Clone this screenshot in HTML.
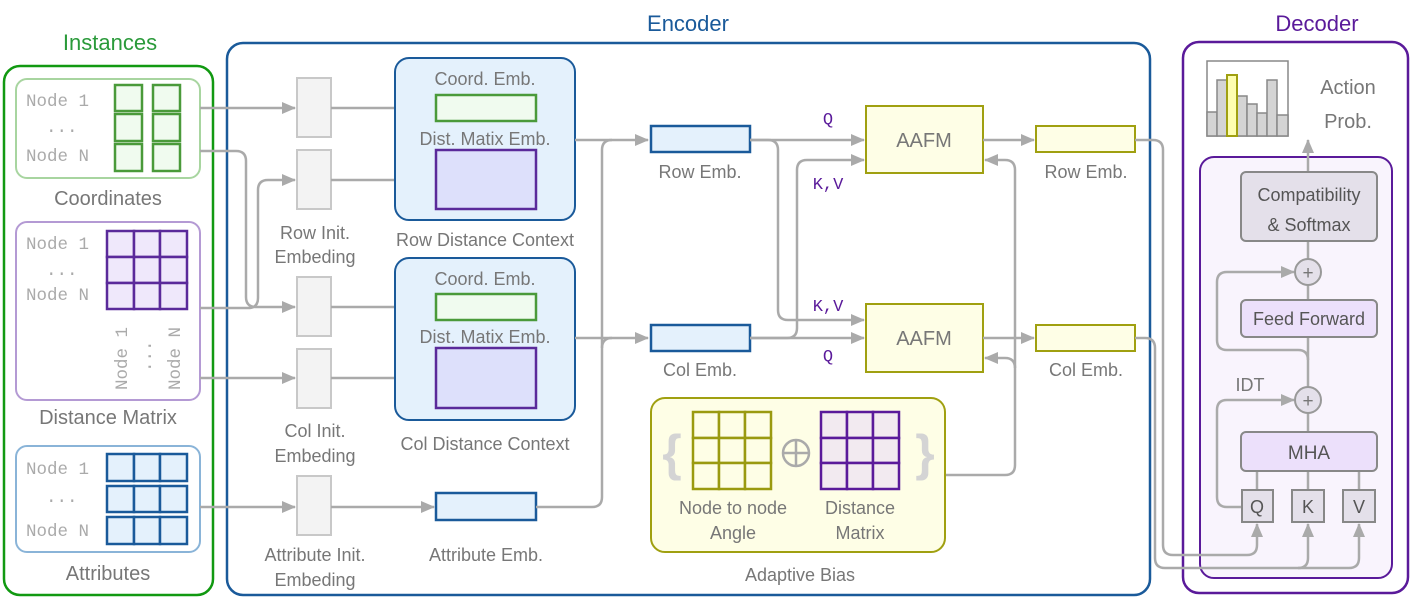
<!DOCTYPE html>
<html><head><meta charset="utf-8"><style>
html,body{margin:0;padding:0;background:#fff}
svg{display:block}
text{font-family:"Liberation Sans",sans-serif;fill:#777}
.m{font-family:"Liberation Mono",monospace;fill:#aaa;font-size:17.5px}
.p{font-family:"Liberation Mono",monospace;fill:#5a1a9a;font-size:17px}
.l{stroke:#aaa;stroke-width:2.5;fill:none}
</style></head><body>
<svg width="1412" height="598" viewBox="0 0 1412 598" xmlns="http://www.w3.org/2000/svg">
<defs>
<marker id="a" markerWidth="16" markerHeight="14" refX="13" refY="6" orient="auto" markerUnits="userSpaceOnUse">
<path d="M0,0 L14,6 L0,12 z" fill="#aaa"/></marker>
</defs>

<text x="110" y="50" font-size="22" text-anchor="middle" style="fill:#2a9a3a">Instances</text>
<text x="688" y="31" font-size="22" text-anchor="middle" style="fill:#1a5a9a">Encoder</text>
<text x="1317" y="31" font-size="22" text-anchor="middle" style="fill:#5a1a9a">Decoder</text>

<rect x="4" y="66" width="209" height="529" rx="16" fill="none" stroke="#119911" stroke-width="2.5"/>
<rect x="16" y="79" width="184" height="99" rx="11" fill="#fff" stroke="#a8d5a0" stroke-width="2"/>
<g fill="#f0fbef" stroke="#4a9a3a" stroke-width="2.5">
<rect x="115" y="85" width="27" height="26"/><rect x="153" y="85" width="27" height="26"/>
<rect x="115" y="114" width="27" height="27"/><rect x="153" y="114" width="27" height="27"/>
<rect x="115" y="144" width="27" height="27"/><rect x="153" y="144" width="27" height="27"/>
</g>
<text class="m" x="26" y="106">Node 1</text><text class="m" x="46" y="132">...</text><text class="m" x="26" y="161">Node N</text>
<text x="108" y="205" font-size="20" text-anchor="middle">Coordinates</text>

<rect x="16" y="222" width="184" height="178" rx="11" fill="#fff" stroke="#b49ad4" stroke-width="2"/>
<g fill="#efe8fb" stroke="#5a2a9a" stroke-width="2.5">
<rect x="107" y="231" width="27" height="26"/><rect x="134" y="231" width="26" height="26"/><rect x="160" y="231" width="27" height="26"/>
<rect x="107" y="257" width="27" height="26"/><rect x="134" y="257" width="26" height="26"/><rect x="160" y="257" width="27" height="26"/>
<rect x="107" y="283" width="27" height="26"/><rect x="134" y="283" width="26" height="26"/><rect x="160" y="283" width="27" height="26"/>
</g>
<text class="m" x="26" y="249">Node 1</text><text class="m" x="46" y="275">...</text><text class="m" x="26" y="300">Node N</text>
<text class="m" transform="translate(127,390) rotate(-90)">Node 1</text>
<text class="m" transform="translate(151,372) rotate(-90)">...</text>
<text class="m" transform="translate(180,390) rotate(-90)">Node N</text>
<text x="108" y="424" font-size="20" text-anchor="middle">Distance Matrix</text>

<rect x="16" y="446" width="184" height="106" rx="11" fill="#fff" stroke="#8ab4d8" stroke-width="2"/>
<g fill="#e4f1fc" stroke="#1a5a9a" stroke-width="2.5">
<rect x="107" y="454" width="27" height="27"/><rect x="134" y="454" width="26" height="27"/><rect x="160" y="454" width="27" height="27"/>
<rect x="107" y="486" width="27" height="26"/><rect x="134" y="486" width="26" height="26"/><rect x="160" y="486" width="27" height="26"/>
<rect x="107" y="517" width="27" height="27"/><rect x="134" y="517" width="26" height="27"/><rect x="160" y="517" width="27" height="27"/>
</g>
<text class="m" x="26" y="474">Node 1</text><text class="m" x="46" y="502">...</text><text class="m" x="26" y="536">Node N</text>
<text x="108" y="580" font-size="20" text-anchor="middle">Attributes</text>

<rect x="227" y="43" width="923" height="552" rx="16" fill="none" stroke="#1a5a9a" stroke-width="2.5"/>
<g fill="#f3f3f3" stroke="#c8c8c8" stroke-width="2">
<rect x="297" y="78" width="34" height="59"/><rect x="297" y="150" width="34" height="59"/>
<rect x="297" y="277" width="34" height="59"/><rect x="297" y="349" width="34" height="59"/>
<rect x="297" y="476" width="34" height="59"/>
</g>
<g font-size="18" text-anchor="middle">
<text x="315" y="239">Row Init.</text><text x="315" y="263">Embeding</text>
<text x="315" y="437">Col Init.</text><text x="315" y="462">Embeding</text>
<text x="315" y="561">Attribute Init.</text><text x="315" y="586">Embeding</text>
</g>

<path class="l" d="M200,108 H295" marker-end="url(#a)"/>
<path class="l" d="M200,151 H236 Q246,151 246,161 V297 Q246,307 256,307 H295" marker-end="url(#a)"/>
<path class="l" d="M200,308 H248 Q258,308 258,298 V190 Q258,180 268,180 H295" marker-end="url(#a)"/>
<path class="l" d="M200,378 H295" marker-end="url(#a)"/>
<path class="l" d="M200,507 H295" marker-end="url(#a)"/>
<path class="l" d="M331,108 H434" marker-end="url(#a)"/>
<path class="l" d="M331,180 H434" marker-end="url(#a)"/>
<path class="l" d="M331,307 H434" marker-end="url(#a)"/>
<path class="l" d="M331,378 H434" marker-end="url(#a)"/>
<path class="l" d="M331,507 H434" marker-end="url(#a)"/>

<rect x="395" y="58" width="180" height="162" rx="14" fill="#e4f1fc" stroke="#1a5a9a" stroke-width="2"/>
<text x="485" y="85" font-size="18" text-anchor="middle">Coord. Emb.</text>
<rect x="436" y="95" width="100" height="26" fill="#f0fbef" stroke="#4a9a3a" stroke-width="2.5"/>
<text x="485" y="145" font-size="18" text-anchor="middle">Dist. Matix Emb.</text>
<rect x="436" y="150" width="100" height="59" fill="#dde0fb" stroke="#5a2a9a" stroke-width="2.5"/>
<text x="485" y="246" font-size="18" text-anchor="middle">Row Distance Context</text>

<rect x="395" y="258" width="180" height="162" rx="14" fill="#e4f1fc" stroke="#1a5a9a" stroke-width="2"/>
<text x="485" y="285" font-size="18" text-anchor="middle">Coord. Emb.</text>
<rect x="436" y="294" width="100" height="26" fill="#f0fbef" stroke="#4a9a3a" stroke-width="2.5"/>
<text x="485" y="343" font-size="18" text-anchor="middle">Dist. Matix Emb.</text>
<rect x="436" y="348" width="100" height="60" fill="#dde0fb" stroke="#5a2a9a" stroke-width="2.5"/>
<text x="485" y="450" font-size="18" text-anchor="middle">Col Distance Context</text>

<rect x="436" y="493" width="100" height="27" fill="#e4f1fc" stroke="#1a5a9a" stroke-width="2.5"/>
<text x="486" y="561" font-size="18" text-anchor="middle">Attribute Emb.</text>

<path class="l" d="M575,140 H648" marker-end="url(#a)"/>
<path class="l" d="M575,338 H648" marker-end="url(#a)"/>
<path class="l" d="M536,507 H592 Q602,507 602,497 V150 Q602,140 612,140"/>
<path class="l" d="M602,348 Q602,338 612,338"/>

<rect x="651" y="126" width="99" height="26" fill="#e4f1fc" stroke="#1a5a9a" stroke-width="2.5"/>
<text x="700" y="178" font-size="18" text-anchor="middle">Row Emb.</text>
<rect x="651" y="325" width="99" height="26" fill="#e4f1fc" stroke="#1a5a9a" stroke-width="2.5"/>
<text x="700" y="376" font-size="18" text-anchor="middle">Col Emb.</text>

<path class="l" d="M750,140 H864" marker-end="url(#a)"/>
<path class="l" d="M750,140 H768 Q778,140 778,150 V310 Q778,320 788,320 H864" marker-end="url(#a)"/>
<path class="l" d="M750,338 H864" marker-end="url(#a)"/>
<path class="l" d="M750,338 H787 Q797,338 797,328 V170 Q797,160 807,160 H864" marker-end="url(#a)"/>
<text class="p" x="828" y="124" text-anchor="middle">Q</text>
<text class="p" x="828" y="189" text-anchor="middle">K,V</text>
<text class="p" x="828" y="311" text-anchor="middle">K,V</text>
<text class="p" x="828" y="361" text-anchor="middle">Q</text>

<rect x="866" y="106" width="117" height="67" fill="#fefee6" stroke="#a0a010" stroke-width="2"/>
<text x="924" y="147" font-size="20" text-anchor="middle">AAFM</text>
<rect x="866" y="304" width="117" height="68" fill="#fefee6" stroke="#a0a010" stroke-width="2"/>
<text x="924" y="345" font-size="20" text-anchor="middle">AAFM</text>

<path class="l" d="M983,140 H1034" marker-end="url(#a)"/>
<path class="l" d="M983,338 H1034" marker-end="url(#a)"/>
<rect x="1036" y="126" width="99" height="26" fill="#fefee6" stroke="#a0a010" stroke-width="2"/>
<text x="1086" y="178" font-size="18" text-anchor="middle">Row Emb.</text>
<rect x="1036" y="325" width="99" height="26" fill="#fefee6" stroke="#a0a010" stroke-width="2"/>
<text x="1086" y="376" font-size="18" text-anchor="middle">Col Emb.</text>

<path class="l" d="M945,475 H1005 Q1015,475 1015,465 V170 Q1015,160 1005,160 H985" marker-end="url(#a)"/>
<path class="l" d="M1015,368 Q1015,358 1005,358 H985" marker-end="url(#a)"/>
<rect x="651" y="398" width="294" height="154" rx="14" fill="#fefee6" stroke="#a0a010" stroke-width="2"/>
<g fill="#fefee6" stroke="#9a9a10" stroke-width="2.5">
<rect x="693" y="412" width="26" height="26"/><rect x="719" y="412" width="26" height="26"/><rect x="745" y="412" width="26" height="26"/>
<rect x="693" y="438" width="26" height="25"/><rect x="719" y="438" width="26" height="25"/><rect x="745" y="438" width="26" height="25"/>
<rect x="693" y="463" width="26" height="26"/><rect x="719" y="463" width="26" height="26"/><rect x="745" y="463" width="26" height="26"/>
</g>
<g fill="#f2eaf0" stroke="#5a1a9a" stroke-width="2.5">
<rect x="821" y="412" width="26" height="26"/><rect x="847" y="412" width="26" height="26"/><rect x="873" y="412" width="26" height="26"/>
<rect x="821" y="438" width="26" height="25"/><rect x="847" y="438" width="26" height="25"/><rect x="873" y="438" width="26" height="25"/>
<rect x="821" y="463" width="26" height="26"/><rect x="847" y="463" width="26" height="26"/><rect x="873" y="463" width="26" height="26"/>
</g>
<circle cx="796" cy="453" r="13" fill="none" stroke="#aaa" stroke-width="2.5"/>
<path d="M783,453 H809 M796,440 V466" stroke="#aaa" stroke-width="2.5"/>
<text x="672" y="470" font-size="50" text-anchor="middle" style="fill:#d4d4d4;font-weight:bold">{</text>
<text x="925" y="470" font-size="50" text-anchor="middle" style="fill:#d4d4d4;font-weight:bold">}</text>
<g font-size="18" text-anchor="middle">
<text x="733" y="514">Node to node</text><text x="733" y="539">Angle</text>
<text x="860" y="514">Distance</text><text x="860" y="539">Matrix</text>
<text x="800" y="581">Adaptive Bias</text>
</g>

<rect x="1183" y="42" width="225" height="551" rx="16" fill="none" stroke="#5a1a9a" stroke-width="2.5"/>
<rect x="1200" y="157" width="192" height="421" rx="14" fill="#f9f4fd" stroke="#5a1a9a" stroke-width="2"/>
<rect x="1207" y="61" width="81" height="75" fill="#fff" stroke="#888" stroke-width="1.5"/>
<g fill="#d4d4d4" stroke="#888" stroke-width="1.5">
<rect x="1207" y="112" width="10" height="24"/><rect x="1217" y="80" width="10" height="56"/>
<rect x="1237" y="96" width="10" height="40"/><rect x="1247" y="104" width="10" height="32"/>
<rect x="1257" y="113" width="10" height="23"/><rect x="1267" y="80" width="10" height="56"/>
<rect x="1277" y="115" width="11" height="21"/>
</g>
<rect x="1227" y="75" width="10" height="61" fill="#fefeb0" stroke="#a0a010" stroke-width="2"/>
<text x="1348" y="94" font-size="20" text-anchor="middle">Action</text>
<text x="1348" y="128" font-size="20" text-anchor="middle">Prob.</text>

<path class="l" d="M1308,172 V140" marker-end="url(#a)"/>
<path class="l" d="M1308,241 V259 M1308,285 V300 M1308,337 V387 M1308,413 V432"/>
<path class="l" d="M1308,360 Q1308,350 1298,350 H1227 Q1217,350 1217,340 V282 Q1217,272 1227,272 H1294" marker-end="url(#a)"/>
<path class="l" d="M1242,507 H1227 Q1217,507 1217,497 V410 Q1217,400 1227,400 H1294" marker-end="url(#a)"/>
<path class="l" d="M1257,471 V490 M1308,471 V490 M1359,471 V490"/>

<rect x="1241" y="172" width="136" height="69" rx="5" fill="#e4e0ea" stroke="#888" stroke-width="2"/>
<text x="1309" y="201" font-size="18" text-anchor="middle" style="fill:#555">Compatibility</text>
<text x="1309" y="231" font-size="18" text-anchor="middle" style="fill:#555">&amp; Softmax</text>
<circle cx="1308" cy="272" r="13" fill="#e4e0ea" stroke="#999" stroke-width="2"/>
<text x="1308" y="279" font-size="19" text-anchor="middle">+</text>
<rect x="1241" y="300" width="136" height="37" rx="5" fill="#ece0fb" stroke="#888" stroke-width="2"/>
<text x="1309" y="325" font-size="18" text-anchor="middle" style="fill:#555">Feed Forward</text>
<circle cx="1308" cy="400" r="13" fill="#e4e0ea" stroke="#999" stroke-width="2"/>
<text x="1308" y="407" font-size="19" text-anchor="middle">+</text>
<text x="1250" y="391" font-size="18" text-anchor="middle">IDT</text>
<rect x="1241" y="432" width="136" height="39" rx="5" fill="#ece0fb" stroke="#888" stroke-width="2"/>
<text x="1309" y="459" font-size="19" text-anchor="middle" style="fill:#555">MHA</text>
<g fill="#e4e0ea" stroke="#888" stroke-width="2">
<rect x="1242" y="490" width="31" height="32"/><rect x="1292" y="490" width="32" height="32"/><rect x="1343" y="490" width="32" height="32"/>
</g>
<g font-size="18" text-anchor="middle">
<text x="1257" y="513" style="fill:#555">Q</text><text x="1308" y="513" style="fill:#555">K</text><text x="1359" y="513" style="fill:#555">V</text>
</g>

<path class="l" d="M1135,140 H1153 Q1163,140 1163,150 V545 Q1163,555 1173,555 H1247 Q1257,555 1257,545 V524" marker-end="url(#a)"/>
<path class="l" d="M1135,338 H1145 Q1155,338 1155,348 V558 Q1155,568 1165,568 H1298 Q1308,568 1308,558 V524" marker-end="url(#a)"/>
<path class="l" d="M1298,568 H1349 Q1359,568 1359,558 V524" marker-end="url(#a)"/>
</svg>
</body></html>
